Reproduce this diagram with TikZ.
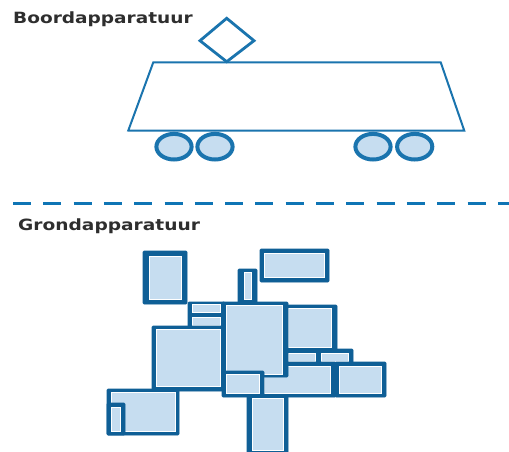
\documentclass[tikz,border=0pt]{standalone}
\usepackage{fontspec}
\setmainfont{DejaVu Sans}
\definecolor{dk}{HTML}{0F5F96}
\definecolor{pale}{HTML}{C6DDF0}
\definecolor{tramblue}{HTML}{1A74AE}
\definecolor{dashblue}{HTML}{0F75B5}
\definecolor{ink}{HTML}{2E2E2E}
\tikzset{
  outerbox/.style={fill=dk,draw=dk,line width=0.6pt,rounded corners=1pt},
  innerbox/.style={fill=pale,draw=white,line width=1pt},
  wheel/.style={draw=tramblue,line width=4pt,fill=pale},
  title/.style={anchor=base west,inner sep=0pt,text=ink,font=\bfseries\fontsize{15.5}{18}\selectfont},
}
\newcommand{\apinner}[4]{\path[innerbox] ({#1+0.5},{#2+0.5}) rectangle ({#3-0.5},{#4-0.5});}
\newcommand{\apbox}[8]{%
  \path[outerbox] (#1,#2) rectangle (#3,#4);
  \apinner{#5}{#6}{#7}{#8}}
\begin{document}
\begin{tikzpicture}[x=1pt,y=-1pt]
\useasboundingbox (0,0) rectangle (509,452);
\fill[white] (0,0) rectangle (509,452);
\node[title] (boord) at (13,24) {\scalebox{1.195}[1]{Boordapparatuur}};
\node[title] (grond) at (18,230) {\scalebox{1.2}[1]{Grondapparatuur}};
% tram
\draw[tramblue,line width=2pt,line join=miter] (153.3,62.3) -- (440.7,62.3) -- (464.3,130.7) -- (128.3,130.5) -- cycle;
\draw[tramblue,line width=2.8pt,line join=miter] (226.7,18.3) -- (254,40.7) -- (226.7,61.7) -- (200,40.7) -- cycle;
\draw[wheel] (174,146.7) ellipse (17.6 and 12.8);
\draw[wheel] (215,146.7) ellipse (17.6 and 12.8);
\draw[wheel] (373,146.7) ellipse (17.6 and 12.8);
\draw[wheel] (414.7,146.7) ellipse (17.6 and 12.8);
% divider
\draw[dashblue,line width=2.8pt,dash pattern=on 18pt off 12.3pt] (13,203.5) -- (509,203.5);
% ground equipment
\apbox{143}{251}{187}{304}{149}{256}{182}{300}
\apbox{260}{249}{329}{282}{264}{253}{325}{278}
\apbox{238}{269}{257}{304}{244}{272}{252}{300}
\apbox{107}{389}{179}{435}{111}{392}{176}{432}
\apbox{107}{403}{125}{435}{111}{407}{121}{432}
\apbox{188}{302}{225}{328}{192}{304}{221}{313}
\apinner{192}{317}{221}{326}
\apbox{152}{326}{225}{391}{156}{329}{221}{387}
\apbox{283}{305}{337}{355}{288}{308}{332}{348}
\apbox{283}{349}{353}{367}{288}{353}{316}{362}
\apinner{321}{353}{349}{362}
\apbox{258}{362}{336}{397}{264}{366}{331}{394}
\apbox{335}{362}{386}{397}{339}{366}{382}{394}
\apbox{222}{302}{288}{377}{226}{305}{283}{375}
\apbox{222}{371}{264}{397}{226}{374}{260}{394}
\apbox{247}{395}{288}{453}{252}{398}{284}{451}
\end{tikzpicture}
\end{document}
